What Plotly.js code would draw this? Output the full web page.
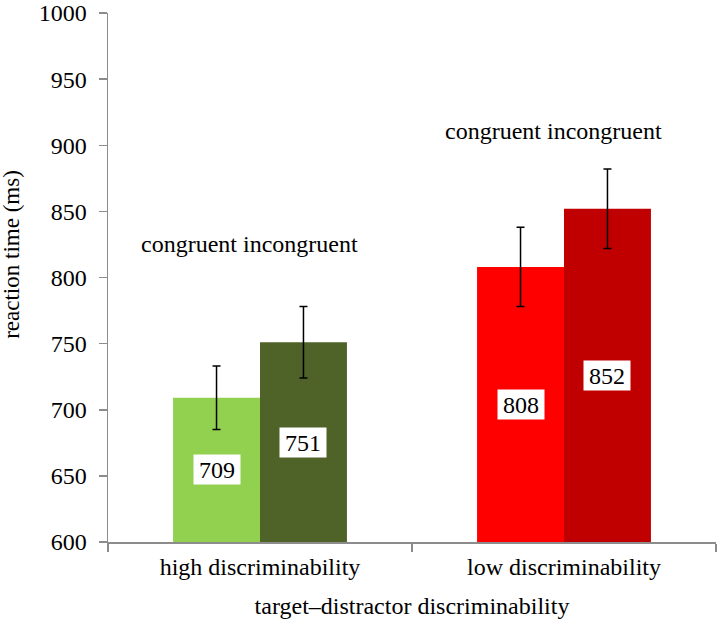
<!DOCTYPE html>
<html>
<head>
<meta charset="utf-8">
<script src="https://cdn.plot.ly/plotly-3.0.1.min.js"></script>
<style>
  body { margin: 0; background: #fff; }
  #chart { width: 718px; height: 621px; }
</style>
</head>
<body>
<div id="chart"></div>
<script>
// groups on the x axis
let groups = ["high discriminability", "low discriminability"];

// mean reaction times (ms)
let congruentRT = [709, 808];
let incongruentRT = [751, 852];

// error bar half widths (ms)
let congruentErr = [24, 30];
let incongruentErr = [27, 30];

// bar colours per group
let congruentColors = ["#92d050", "#ff0000"];
let incongruentColors = ["#4f6228", "#c00000"];

let yMin = 600;
let yMax = 1000;

let serif = "'Liberation Serif', 'Times New Roman', serif";
let fontSize = 24;

// congruent bars
let trace1 = {
    x: groups,
    y: congruentRT,
    type: "bar",
    name: "congruent",
    marker: { color: congruentColors },
    error_y: { type: "data", array: congruentErr, visible: true, color: "#000", thickness: 1.5, width: 4 },
    hoverinfo: "y"
};

// incongruent bars
let trace2 = {
    x: groups,
    y: incongruentRT,
    type: "bar",
    name: "incongruent",
    marker: { color: incongruentColors },
    error_y: { type: "data", array: incongruentErr, visible: true, color: "#000", thickness: 1.5, width: 4 },
    hoverinfo: "y"
};

let data = [trace1, trace2];

let bargap = 0.428;
let half = (1 - bargap) / 4;  // offset of each bar centre from the group centre

// value labels in white boxes, at the middle of the visible part of each bar
let annotations = [];
groups.forEach(function (g, i) {
    [[congruentRT, -half], [incongruentRT, half]].forEach(function (pair) {
        let v = pair[0][i];
        annotations.push({
            x: i + pair[1],
            y: (yMin + v) / 2,
            xref: "x", yref: "y",
            text: String(v),
            showarrow: false,
            bgcolor: "#fff",
            borderpad: 0,
            width: 46,
            height: 29,
            font: { family: serif, size: fontSize, color: "#000" }
        });
    });
});

// group captions
annotations.push({
    x: 0, y: 825, xref: "x", yref: "y", xshift: -11,
    text: "congruent incongruent", showarrow: false,
    font: { family: serif, size: fontSize, color: "#000" }
});
annotations.push({
    x: 1, y: 911, xref: "x", yref: "y", xshift: -11,
    text: "congruent incongruent", showarrow: false,
    font: { family: serif, size: fontSize, color: "#000" }
});

// y axis title, placed a little above the middle as in the original
annotations.push({
    x: -0.159, y: 0.5435, xref: "paper", yref: "paper",
    xanchor: "center", yanchor: "middle",
    text: "reaction time (ms)", textangle: -90, showarrow: false,
    font: { family: serif, size: 23, color: "#000" }
});

let layout = {
    width: 718,
    height: 621,
    margin: { l: 108, r: 2, t: 13, b: 79 },
    paper_bgcolor: "#fff",
    plot_bgcolor: "#fff",
    barmode: "group",
    bargap: bargap,
    bargroupgap: 0,
    showlegend: false,
    font: { family: serif, size: fontSize, color: "#000" },
    xaxis: {
        showline: true,
        linecolor: "#8c8c8c",
        linewidth: 1.5,
        ticks: "outside",
        tickson: "boundaries",
        ticklen: 8,
        tickcolor: "#8c8c8c",
        tickwidth: 1.5,
        showgrid: false,
        ticklabelstandoff: 3,
        tickfont: { family: serif, size: fontSize, color: "#000" },
        title: { text: "target\u2013distractor discriminability", font: { family: serif, size: fontSize, color: "#000" }, standoff: 18 }
    },
    yaxis: {
        range: [yMin, yMax],
        dtick: 50,
        showline: true,
        linecolor: "#8c8c8c",
        linewidth: 1.5,
        ticks: "outside",
        ticklen: 8,
        tickcolor: "#8c8c8c",
        tickwidth: 1.5,
        showgrid: false,
        zeroline: false,
        ticklabelstandoff: 7,
        tickfont: { family: serif, size: fontSize, color: "#000" }
    },
    annotations: annotations
};

Plotly.newPlot("chart", data, layout, { displayModeBar: false, staticPlot: true });
</script>
</body>
</html>
